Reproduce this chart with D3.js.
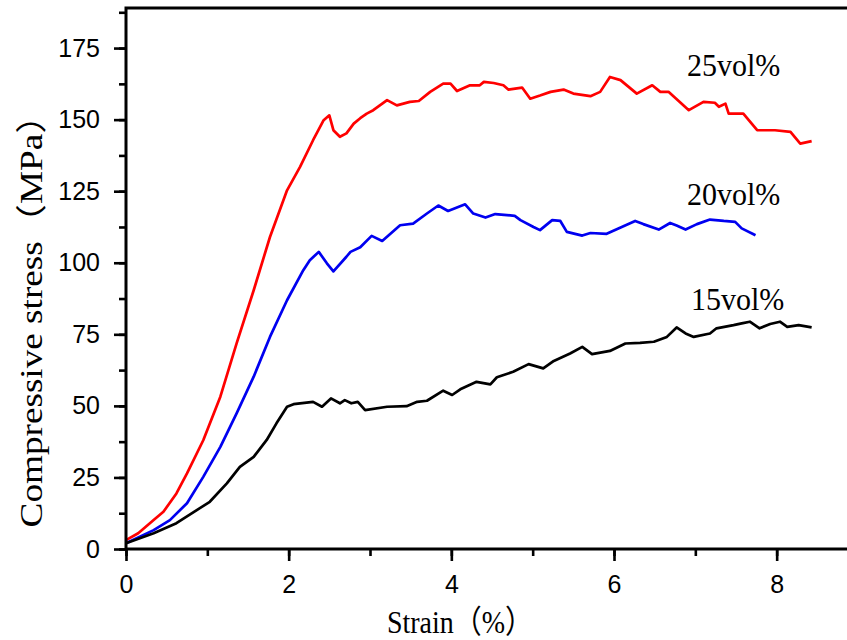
<!DOCTYPE html>
<html>
<head>
<meta charset="utf-8">
<script src="https://cdn.jsdelivr.net/npm/d3@7"></script>
<style>
  body { margin: 0; background: #fff; }
  svg { display: block; }
  .tick-label { font-family: "Liberation Sans", Arial, sans-serif; font-size: 25px; }
  .serif { font-family: "Liberation Serif", "Times New Roman", "Noto Sans CJK SC", serif; }
</style>
</head>
<body>
<div id="chart"></div>
<script>
'use strict';

// readings: strain (%) / compressive stress (MPa)
const strain25 = [0, 0.15, 0.34, 0.46, 0.62, 0.75, 0.95, 1.16, 1.36, 1.57, 1.77, 1.98, 2.14, 2.30, 2.43, 2.50,
  2.55, 2.63, 2.71, 2.80, 2.88, 2.96, 3.04, 3.21, 3.33, 3.49, 3.60, 3.74, 3.90, 3.99, 4.07, 4.23, 4.35, 4.40,
  4.52, 4.64, 4.70, 4.87, 4.97, 5.09, 5.22, 5.38, 5.50, 5.71, 5.83, 5.95, 6.08, 6.28, 6.47, 6.57, 6.67, 6.92,
  7.10, 7.24, 7.29, 7.37, 7.41, 7.59, 7.76, 7.98, 8.17, 8.29, 8.43];
const stress25 = [3.1, 5.5, 10.1, 13, 19.4, 26.4, 38, 53.2, 71.8, 90.4, 109, 125.3, 133.5, 142.8, 149.8, 151.5,
  146.3, 144, 145.2, 148.6, 150.5, 152.1, 153.3, 156.8, 155, 156.2, 156.5, 159.7, 162.6, 162.6, 160, 162, 162, 163.2,
  162.8, 162, 160.5, 161.2, 157.3, 158.4, 159.7, 160.5, 159.1, 158.2, 159.7, 164.9, 163.8, 159.1, 162, 159.7, 159.7, 153.3,
  156.2, 155.9, 154.5, 155.6, 152.1, 152.1, 146.3, 146.3, 145.7, 141.6, 142.5];

const strain20 = [0, 0.34, 0.54, 0.75, 0.95, 1.16, 1.36, 1.57, 1.77, 1.98, 2.18, 2.26, 2.37, 2.47, 2.55, 2.71,
  2.76, 2.88, 3.02, 3.15, 3.37, 3.53, 3.70, 3.84, 3.96, 4.17, 4.27, 4.42, 4.54, 4.78, 4.85, 5.01, 5.09, 5.24,
  5.34, 5.42, 5.61, 5.71, 5.91, 6.26, 6.36, 6.55, 6.69, 6.77, 6.88, 7.02, 7.18, 7.35, 7.49, 7.57, 7.74];
const stress20 = [2, 6.6, 10.1, 16, 25.2, 35.7, 47.4, 60.2, 74.1, 86.9, 97.4, 100.9, 103.8, 99.8, 97, 102.1,
  103.8, 105.4, 109.4, 107.6, 113.1, 113.7, 117.2, 120, 118.1, 120.4, 117.2, 115.8, 117, 116.4, 114.9, 112.5, 111.4, 114.9,
  114.6, 110.8, 109.5, 110.4, 110.1, 114.6, 113.5, 111.6, 113.9, 113, 111.6, 113.5, 115.1, 114.6, 114.3, 112, 109.6];

const strain15 = [0, 0.34, 0.62, 0.87, 1.03, 1.24, 1.40, 1.57, 1.73, 1.85, 1.98, 2.06, 2.30, 2.41, 2.52, 2.63,
  2.69, 2.77, 2.85, 2.94, 3.21, 3.45, 3.58, 3.70, 3.90, 4.01, 4.11, 4.31, 4.48, 4.56, 4.76, 4.95, 5.13, 5.26,
  5.46, 5.61, 5.73, 5.95, 6.14, 6.32, 6.49, 6.65, 6.77, 6.88, 6.98, 7.18, 7.26, 7.47, 7.57, 7.67, 7.79, 7.92,
  8.04, 8.13, 8.27, 8.43];
const stress15 = [2, 5.5, 9, 13.6, 16.5, 22.9, 28.7, 32.2, 38.1, 43.9, 49.7, 50.6, 51.4, 49.7, 52.6, 50.9,
  52, 50.9, 51.4, 48.5, 49.7, 49.9, 51.4, 51.8, 55.3, 53.8, 55.8, 58.4, 57.5, 60, 61.9, 64.6, 63.1, 65.7,
  68.3, 70.6, 68.1, 69.2, 71.8, 72, 72.4, 74.1, 77.4, 75.3, 74.1, 75.3, 77.1, 78.2, 78.8, 79.4, 77.1, 78.6,
  79.4, 77.6, 78.2, 77.4];

const seriesNames = ['25vol%', '20vol%', '15vol%'];
const seriesColors = ['#ff0000', '#0000f0', '#000000'];
const xTicks = [0, 2, 4, 6, 8];
const yTicks = [0, 25, 50, 75, 100, 125, 150, 175];

const width = 847;
const height = 640;
const margin = { top: 8, right: -11, bottom: 91, left: 126 };

function zip(xs, ys) {
  return xs.map((x, i) => [x, ys[i]]);
}

// label anchor = [strain, stress] of the text's centre baseline
const series = [
  { name: seriesNames[0], color: seriesColors[0], points: zip(strain25, stress25), label: [7.47, 165.2] },
  { name: seriesNames[1], color: seriesColors[1], points: zip(strain20, stress20), label: [7.47, 120.1] },
  { name: seriesNames[2], color: seriesColors[2], points: zip(strain15, stress15), label: [7.52, 83.4] }
];

const svg = d3.select('#chart').append('svg')
  .attr('width', width)
  .attr('height', height);

const x = d3.scaleLinear().domain([0, 9]).range([margin.left, width - margin.right]);
const y = d3.scaleLinear().domain([0, 189]).range([height - margin.bottom, margin.top]);

// curves
const line = d3.line().x(d => x(d[0])).y(d => y(d[1]));
series.forEach(s => {
  svg.append('path')
    .datum(s.points)
    .attr('fill', 'none')
    .attr('stroke', s.color)
    .attr('stroke-width', 2.7)
    .attr('stroke-linejoin', 'round')
    .attr('d', line);

  svg.append('text')
    .attr('class', 'serif')
    .attr('transform', `translate(${x(s.label[0])},${y(s.label[1])}) scale(1,1.08)`)
    .attr('text-anchor', 'middle')
    .attr('font-size', 30)
    .text(s.name);
});

// minor ticks first, majors on top
function minorTicks(scale, step) {
  const [a, b] = scale.domain();
  return d3.range(a, b + 1e-9, step);
}

const xAxis = svg.append('g')
  .attr('transform', `translate(0,${y(0)})`)
  .call(d3.axisBottom(x).tickValues(minorTicks(x, 1)).tickSize(7).tickFormat(''));
xAxis.append('g')
  .call(d3.axisBottom(x).tickValues(xTicks).tickSize(12).tickPadding(14).tickFormat(d3.format('d')));

const yAxis = svg.append('g')
  .attr('transform', `translate(${x(0)},0)`)
  .call(d3.axisLeft(y).tickValues(d3.range(0, 188, 12.5)).tickSize(7).tickFormat(''));
yAxis.append('g')
  .call(d3.axisLeft(y).tickValues(yTicks).tickSize(12).tickPadding(14).tickFormat(d3.format('d')));

svg.selectAll('.domain').attr('stroke-width', 0);
svg.selectAll('.tick line').attr('stroke', '#000').attr('stroke-width', 2.6);
svg.selectAll('.tick text').attr('class', 'tick-label').attr('fill', '#000');

// frame
svg.append('rect')
  .attr('x', x(0))
  .attr('y', y(189))
  .attr('width', x(9) - x(0))
  .attr('height', y(0) - y(189))
  .attr('fill', 'none')
  .attr('stroke', '#000')
  .attr('stroke-width', 3);

// axis titles (the source picture is slightly stretched vertically)
svg.append('text')
  .attr('class', 'serif')
  .attr('transform', 'translate(460,633) scale(1,1.15)')
  .attr('text-anchor', 'middle')
  .attr('font-size', 28)
  .text('Strain（%）');

svg.append('text')
  .attr('class', 'serif')
  .attr('transform', 'translate(42,312) rotate(-90) scale(1.2,1)')
  .attr('text-anchor', 'middle')
  .attr('font-size', 31)
  .text('Compressive stress（MPa）');
</script>
</body>
</html>
